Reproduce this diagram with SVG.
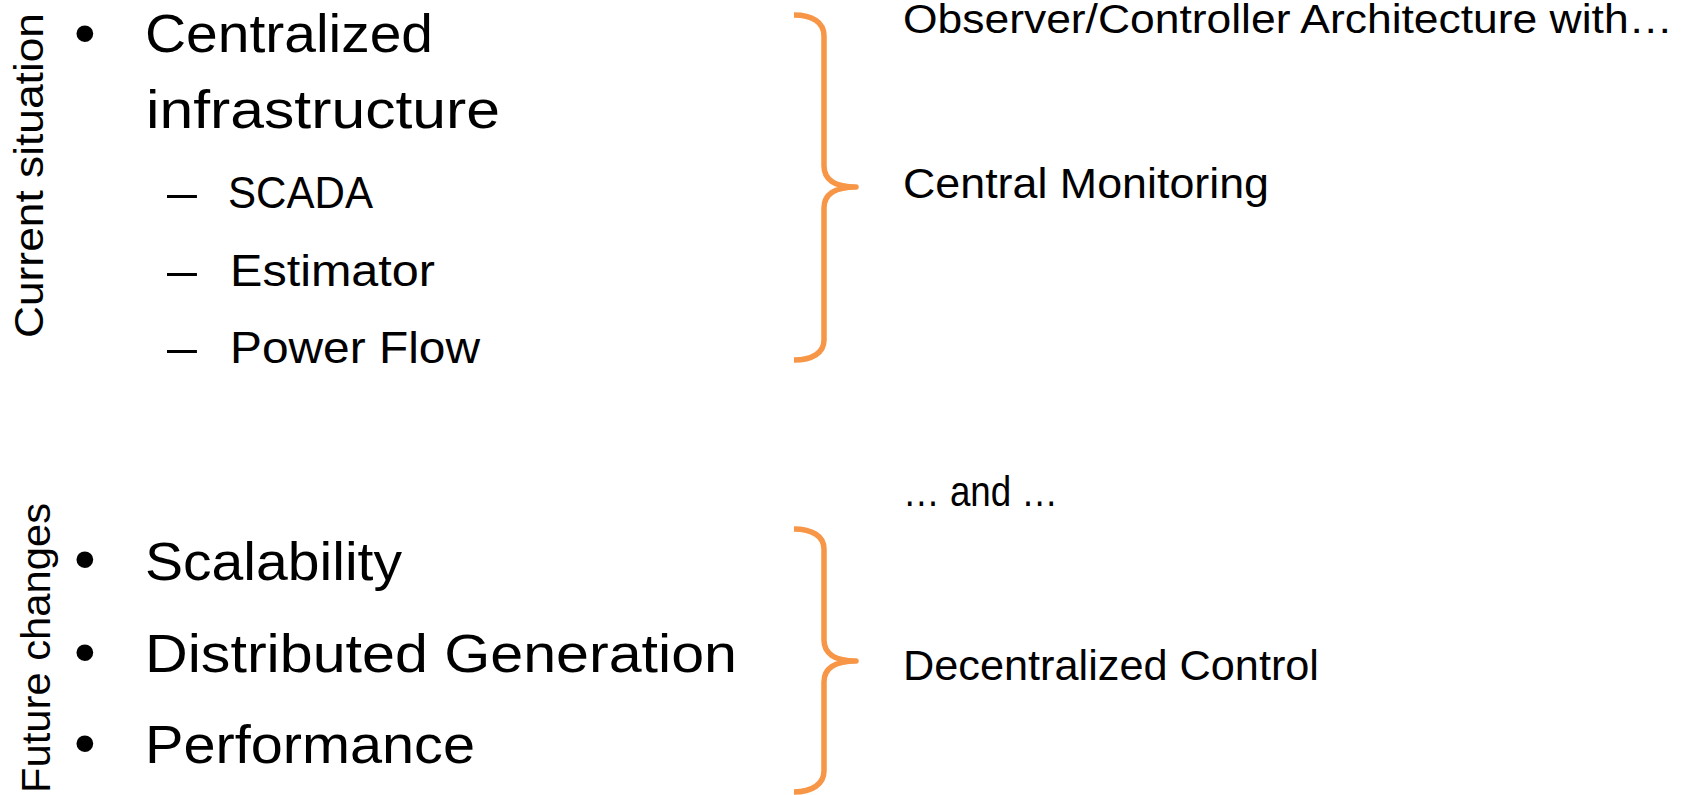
<svg xmlns="http://www.w3.org/2000/svg" width="1694" height="795" viewBox="0 0 1694 795">
<style>
text{font-family:"Liberation Sans",Arial,sans-serif;fill:#000}
.main{font-size:54px}
.sub{font-size:44px}
.side{font-size:42px}
.top{font-size:40px}
.vert{font-size:40px}
.bul{font-size:62px}
.brace{fill:none;stroke:#F79646;stroke-width:5.5;stroke-linejoin:round;stroke-linecap:butt}
</style>
<rect width="1694" height="795" fill="#fff"/>
<g id="current-label"><text class="vert" transform="translate(43,338) rotate(-90)" textLength="325" lengthAdjust="spacingAndGlyphs">Current situation</text></g>
<g id="future-label"><text class="vert" transform="translate(50,793) rotate(-90)" textLength="290" lengthAdjust="spacingAndGlyphs">Future changes</text></g>
<g id="centralized">
<text class="bul" x="74" y="54">•</text>
<text class="main" x="145" y="52" textLength="288" lengthAdjust="spacingAndGlyphs">Centralized</text>
<text class="main" x="146" y="128" textLength="354" lengthAdjust="spacingAndGlyphs">infrastructure</text>
</g>
<g id="scada"><text class="sub" x="167" y="208" textLength="30" lengthAdjust="spacingAndGlyphs">–</text><text class="sub" x="228" y="208" textLength="145" lengthAdjust="spacingAndGlyphs">SCADA</text></g>
<g id="estimator"><text class="sub" x="167" y="286" textLength="30" lengthAdjust="spacingAndGlyphs">–</text><text class="sub" x="230" y="286" textLength="205" lengthAdjust="spacingAndGlyphs">Estimator</text></g>
<g id="powerflow"><text class="sub" x="167" y="363" textLength="30" lengthAdjust="spacingAndGlyphs">–</text><text class="sub" x="230" y="363" textLength="250" lengthAdjust="spacingAndGlyphs">Power Flow</text></g>
<g id="scalability"><text class="bul" x="74" y="580">•</text><text class="main" x="145" y="580" textLength="257" lengthAdjust="spacingAndGlyphs">Scalability</text></g>
<g id="distributed"><text class="bul" x="74" y="673">•</text><text class="main" x="145" y="672" textLength="592" lengthAdjust="spacingAndGlyphs">Distributed Generation</text></g>
<g id="performance"><text class="bul" x="74" y="764">•</text><text class="main" x="145" y="763" textLength="330" lengthAdjust="spacingAndGlyphs">Performance</text></g>
<g id="observer"><text class="top" x="903" y="33" textLength="770" lengthAdjust="spacingAndGlyphs">Observer/Controller Architecture with…</text></g>
<g id="central-monitoring"><text class="side" x="903" y="198" textLength="366" lengthAdjust="spacingAndGlyphs">Central Monitoring</text></g>
<g id="and"><text class="side" x="903" y="506" textLength="155" lengthAdjust="spacingAndGlyphs">… and …</text></g>
<g id="decentralized-control"><text class="side" x="903" y="680" textLength="416" lengthAdjust="spacingAndGlyphs">Decentralized Control</text></g>
<g id="connectors">
<path id="brace-top" class="brace" d="M794,15 C812,15 824,22 824,36 L824,166 C824,179 834,187 856,187 C834,187 824,195 824,208 L824,340 C824,353 812,360 794,360"/>
<path id="brace-bottom" class="brace" d="M794,529 C812,529 824,536 824,549 L824,640 C824,653 834,661 856,661 C834,661 824,669 824,682 L824,771 C824,784 812,792 794,792"/>
</g>
</svg>
